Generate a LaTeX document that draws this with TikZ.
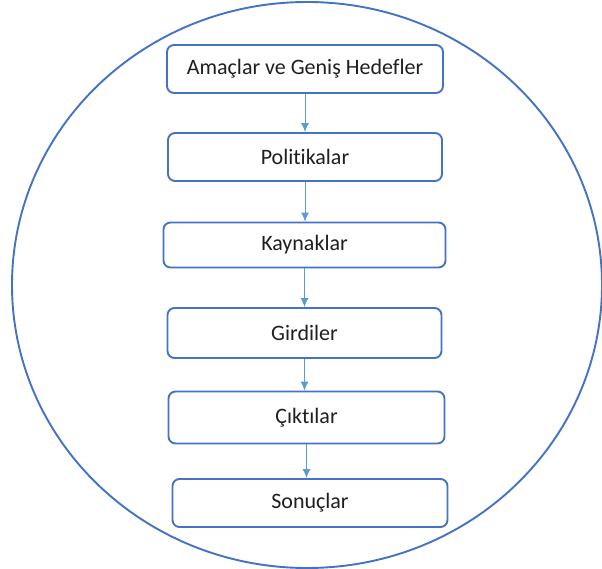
\documentclass[tikz,border=0pt]{standalone}
\usepackage{fontspec}
\setmainfont{Carlito}[Ligatures=NoCommon]
\usetikzlibrary{positioning,arrows.meta}
\definecolor{frameblue}{HTML}{4472C4}
\definecolor{arrowblue}{HTML}{5B9BD5}

\begin{document}
\begin{tikzpicture}[x=1pt,y=-1pt]
\tikzstyle{stage}=[rectangle, rounded corners=7pt, draw=frameblue, line width=1.9pt, fill=white, minimum height=46pt, font=\fontsize{22}{26}\selectfont, text=black!88]
\tikzstyle{connect}=[-{Latex[length=9pt,width=8pt]}, draw=arrowblue, line width=1pt]
\useasboundingbox (0,0) rectangle (602,569);
  \draw[frameblue, line width=1.9pt] (307,285) ellipse [x radius=295pt, y radius=283pt];
  \node[stage, minimum width=276pt, minimum height=48pt] (goals) at (305,69) {Amaçlar ve Geniş Hedefler};
  \node[stage, minimum width=274pt, minimum height=48pt] (policies) at (305,157) {Politikalar};
  \node[stage, minimum width=282pt, minimum height=45pt] (resources) at (304.5,245) {Kaynaklar};
  \node[stage, minimum width=274pt, minimum height=50pt] (inputs) at (304.5,333) {Girdiler};
  \node[stage, minimum width=276pt, minimum height=52pt] (outputs) at (306.5,417.5) {Çıktılar};
  \node[stage, minimum width=275pt, minimum height=48pt] (outcomes) at (310,503) {Sonuçlar};
  \path (goals.south) edge [connect] (goals.south |- policies.north)
        (policies.south) edge [connect] (policies.south |- resources.north)
        (resources.south) edge [connect] (resources.south |- inputs.north)
        (inputs.south) edge [connect] (inputs.south |- outputs.north)
        (outputs.south) edge [connect] (outputs.south |- outcomes.north);
\end{tikzpicture}
\end{document}
